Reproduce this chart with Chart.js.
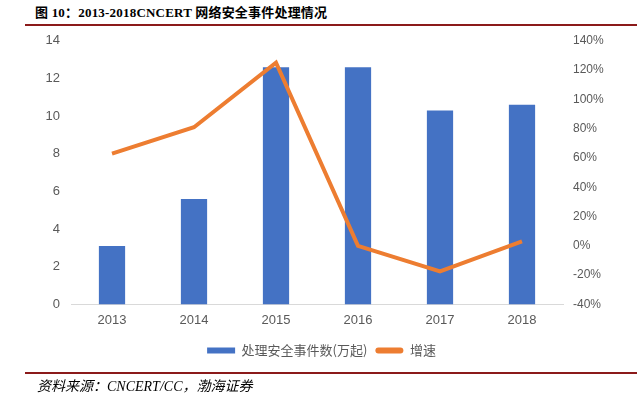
<!DOCTYPE html>
<html>
<head>
<meta charset="utf-8">
<script src="https://cdn.jsdelivr.net/npm/chart.js@4"></script>
<style>
  body { margin: 0; background: #fff; width: 643px; height: 394px; position: relative; overflow: hidden; }
  #title { position: absolute; left: 35px; top: 2px; font: bold 13px "Liberation Serif", "Noto Sans CJK SC", serif; color: #000; letter-spacing: 0.2px; }
  .rule { position: absolute; left: 25px; width: 612px; height: 2px; background: #8b1a1a; }
  #src { position: absolute; left: 37px; top: 375px; font: italic 14px "Liberation Serif", "Noto Sans CJK SC", serif; color: #000; }
  #box { position: absolute; left: 0; top: 30px; width: 643px; height: 347px; }
</style>
</head>
<body>
<div id="title">图 10：2013-2018CNCERT 网络安全事件处理情况</div>
<div class="rule" style="top:24px"></div>
<div id="box"><canvas id="myChart"></canvas></div>
<div class="rule" style="top:372px"></div>
<div id="src">资料来源：CNCERT/CC，渤海证券</div>
<script>
// --- Data ---
const years = ['2013', '2014', '2015', '2016', '2017', '2018']
const events = [3.1, 5.6, 12.6, 12.6, 10.3, 10.6]
const growth = [0.63, 0.81, 1.25, 0.0, -0.175, 0.03]
const leftTicks = [0, 2, 4, 6, 8, 10, 12, 14]
const rightTicks = [-0.4, -0.2, 0, 0.2, 0.4, 0.6, 0.8, 1.0, 1.2, 1.4]

const ctx = document.getElementById('myChart').getContext('2d')
const tickFont = { family: 'Liberation Sans, Arial, sans-serif', size: 13 }

const myChart = new Chart(ctx, {
    type: 'bar',
    data: {
        labels: years,
        datasets: [{
            type: 'line',
            label: '增速',
            data: growth,
            yAxisID: 'y1',
            borderColor: '#ed7d31',
            backgroundColor: '#ed7d31',
            borderWidth: 4,
            pointRadius: 0,
            tension: 0,
            order: 0
        }, {
            label: '处理安全事件数(万起)',
            data: events,
            yAxisID: 'y',
            backgroundColor: '#4472c4',
            categoryPercentage: 1,
            barPercentage: 0.32,
            order: 1
        }]
    },
    options: {
        responsive: true,
        maintainAspectRatio: false,
        animation: false,
        layout: { padding: { top: 8, bottom: 10 } },
        plugins: {
            legend: {
                position: 'bottom',
                reverse: true,
                labels: {
                    boxWidth: 28,
                    boxHeight: 6,
                    padding: 8,
                    color: '#595959',
                    font: { family: 'Noto Sans CJK SC, sans-serif', size: 13 },
                    generateLabels: function (chart) {
                        const items = Chart.defaults.plugins.legend.labels.generateLabels(chart)
                        items.forEach(function (it) {
                            it.lineWidth = 0
                            if (it.text === '增速') it.borderRadius = 3
                        })
                        return items
                    }
                }
            },
            tooltip: { enabled: false }
        },
        scales: {
            x: {
                grid: { display: false, drawTicks: false },
                border: { color: '#d9d9d9' },
                ticks: { color: '#595959', font: tickFont, padding: 8 }
            },
            y: {
                position: 'left',
                min: 0,
                max: 14,
                afterBuildTicks: function (axis) { axis.ticks = leftTicks.map(v => ({ value: v })) },
                afterFit: function (axis) { axis.width = 71 },
                grid: { display: false },
                border: { display: false },
                ticks: { color: '#595959', font: tickFont, padding: 3 }
            },
            y1: {
                position: 'right',
                min: -0.4,
                max: 1.4,
                afterBuildTicks: function (axis) { axis.ticks = rightTicks.map(v => ({ value: v })) },
                afterFit: function (axis) { axis.width = 80 },
                grid: { display: false },
                border: { display: false },
                ticks: {
                    color: '#595959',
                    font: { family: 'Liberation Sans, Arial, sans-serif', size: 12 },
                    padding: 2,
                    callback: function (v) { return Math.round(v * 100) + '%' }
                }
            }
        }
    }
})
</script>
</body>
</html>
